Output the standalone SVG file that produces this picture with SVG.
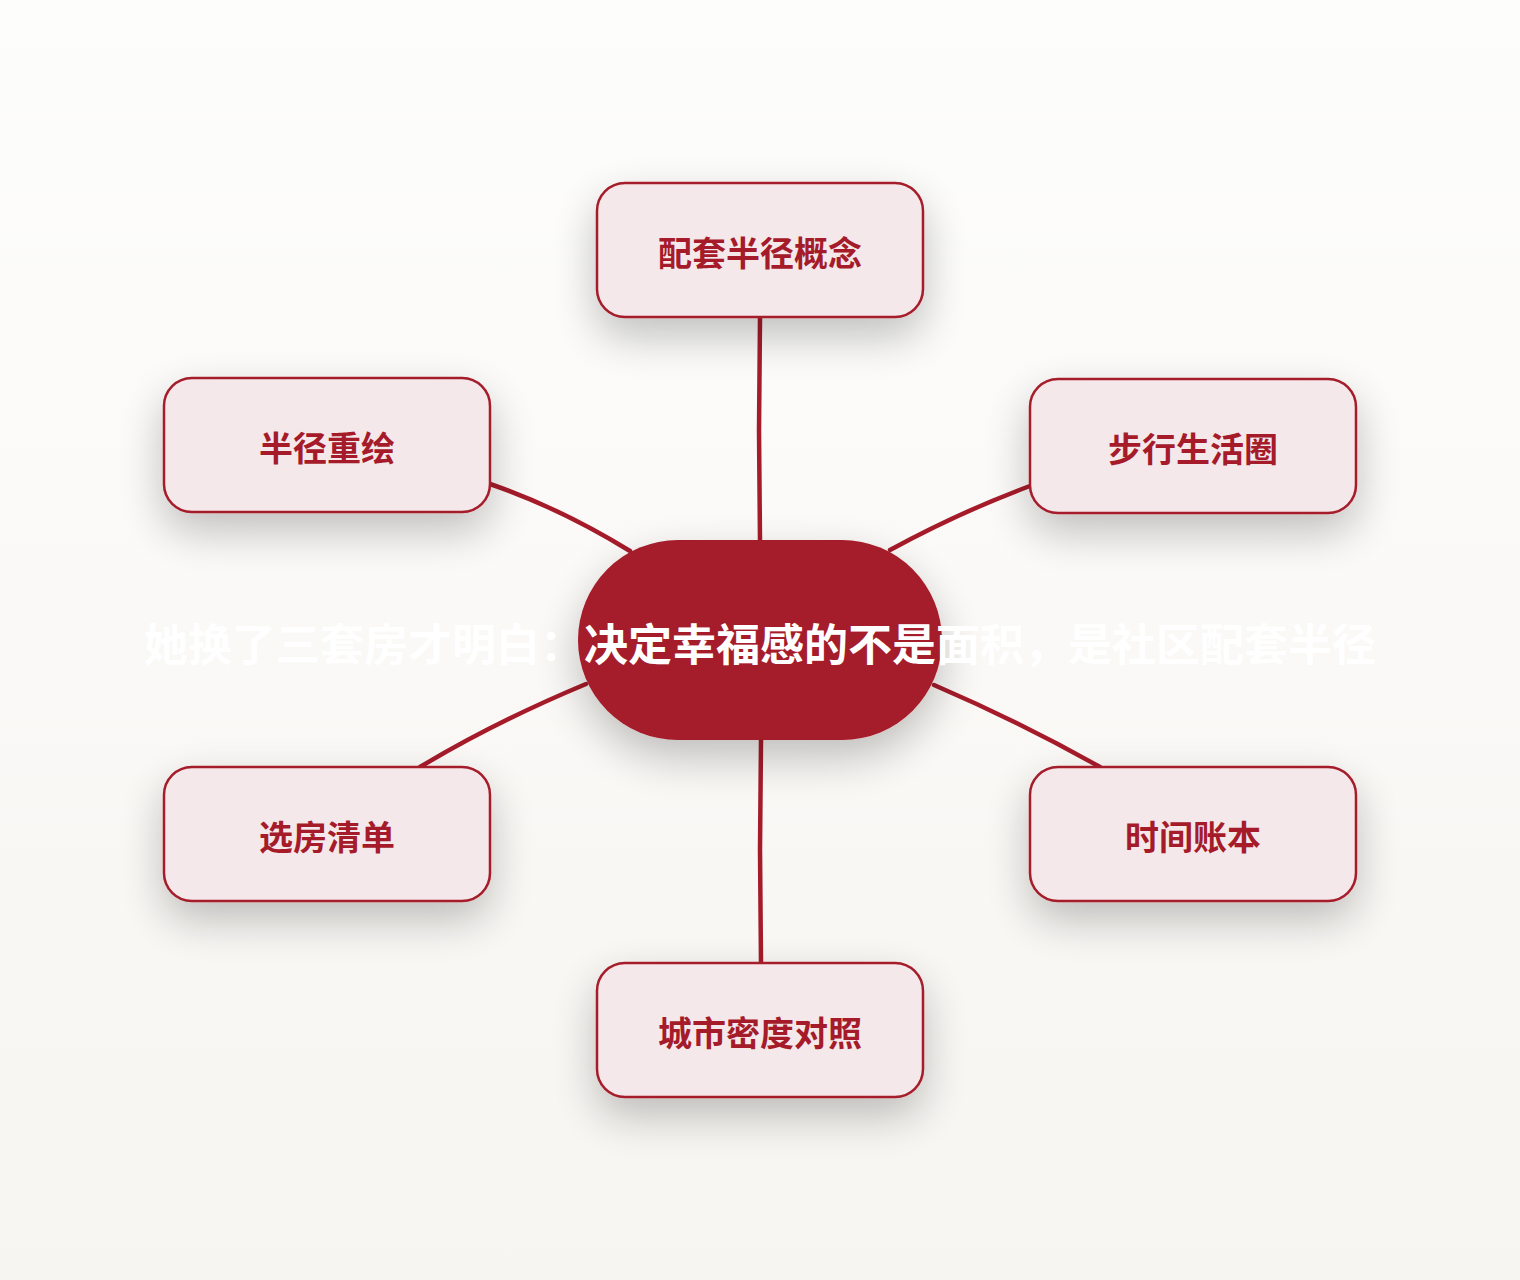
<svg xmlns="http://www.w3.org/2000/svg" width="1520" height="1280" viewBox="0 0 1520 1280">
  <defs>
    <linearGradient id="bg" x1="0" y1="0" x2="0" y2="1">
      <stop offset="0" stop-color="#FDFDFC"/>
      <stop offset="1" stop-color="#F7F5F1"/>
    </linearGradient>
    <filter id="shadow" x="-40%" y="-50%" width="180%" height="220%">
      <feGaussianBlur in="SourceAlpha" stdDeviation="22"/>
      <feOffset dx="0" dy="18" result="b"/>
      <feComponentTransfer><feFuncA type="linear" slope="0.24"/></feComponentTransfer>
      <feMerge><feMergeNode/><feMergeNode in="SourceGraphic"/></feMerge>
    </filter>
    <style>
      .node rect { fill: #F4E8EA; stroke: #A51B2A; stroke-width: 2.5; }
      .node text { fill: #A51B2A; font-family: "Noto Sans CJK SC", "Noto Sans", sans-serif; font-weight: 700; font-size: 34px; text-anchor: middle; dominant-baseline: central; }
      .edge { fill: none; stroke: #A51B2A; stroke-width: 4.5; stroke-linecap: round; }
      .center rect { fill: #A51B2A; }
      .center text { fill: #FFFFFF; font-family: "Noto Sans CJK SC", "Noto Sans", sans-serif; font-weight: 700; font-size: 44px; text-anchor: middle; dominant-baseline: central; }
    </style>
  </defs>
  <rect x="0" y="0" width="1520" height="1280" fill="url(#bg)"/>

  <g id="connectors">
    <path class="edge" d="M760,318 L759,430 L760,540"/>
    <path class="edge" d="M490,484 Q560,508 630,551"/>
    <path class="edge" d="M1030,486 Q960,512 890,550"/>
    <path class="edge" d="M420,767 Q495,722 586,684"/>
    <path class="edge" d="M934,685 Q1020,722 1100,767"/>
    <path class="edge" d="M761,740 L760,850 L761,963"/>
  </g>

  <g id="node-top" class="node">
    <rect x="597" y="183" width="326" height="134" rx="28" filter="url(#shadow)"/>
    <text x="760" y="251">配套半径概念</text>
  </g>
  <g id="node-top-left" class="node">
    <rect x="164" y="378" width="326" height="134" rx="28" filter="url(#shadow)"/>
    <text x="327" y="446">半径重绘</text>
  </g>
  <g id="node-top-right" class="node">
    <rect x="1030" y="379" width="326" height="134" rx="28" filter="url(#shadow)"/>
    <text x="1193" y="447">步行生活圈</text>
  </g>
  <g id="node-bottom-left" class="node">
    <rect x="164" y="767" width="326" height="134" rx="28" filter="url(#shadow)"/>
    <text x="327" y="835">选房清单</text>
  </g>
  <g id="node-bottom-right" class="node">
    <rect x="1030" y="767" width="326" height="134" rx="28" filter="url(#shadow)"/>
    <text x="1193" y="835">时间账本</text>
  </g>
  <g id="node-bottom" class="node">
    <rect x="597" y="963" width="326" height="134" rx="28" filter="url(#shadow)"/>
    <text x="760" y="1031">城市密度对照</text>
  </g>

  <g id="node-center" class="center">
    <rect x="578" y="540" width="364" height="200" rx="100" filter="url(#shadow)"/>
    <text x="760" y="642">她换了三套房才明白：决定幸福感的不是面积，是社区配套半径</text>
  </g>
</svg>
